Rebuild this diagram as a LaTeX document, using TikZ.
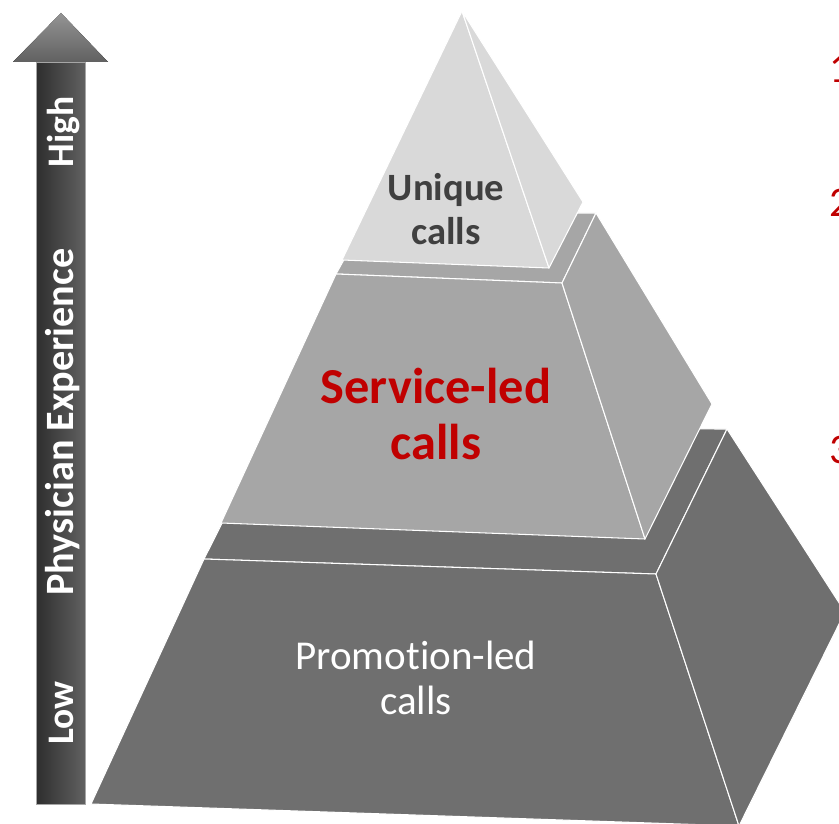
\documentclass[tikz,border=0pt]{standalone}
\usepackage{fontspec}
\setmainfont[Ligatures=NoCommon]{Carlito}
\usepackage{xcolor}
\usetikzlibrary{calc}
\definecolor{uniquegray}{HTML}{D9D9D9}
\definecolor{servicegray}{HTML}{A6A6A6}
\definecolor{promogray}{HTML}{6F6F6F}
\definecolor{callred}{HTML}{C00000}
\definecolor{labelgray}{HTML}{404040}

\begin{document}
\begin{tikzpicture}[x=0.03cm, y=-0.03cm,
  face/.style={draw=white, line width=0.9pt, line join=round},
  axislabel/.style={rotate=90, anchor=base, text=white, font=\bfseries\fontsize{32}{36}\selectfont},
  tierlabel/.style={align=center, font=\bfseries\fontsize{33}{37}\selectfont},
  stepnum/.style={anchor=base west, text=callred, font=\fontsize{36}{40}\selectfont}]
  \useasboundingbox (0,0) rectangle (839,824);
  \clip (0,0) rectangle (839,824);
  % experience arrow
  \coordinate (tip) at (61,13);
  \fill[left color=black!82, right color=black!62, draw=black!35, line width=0.6pt] (36,62) rectangle (85,804);
  \fill[top color=black!42, bottom color=black!62] (13,62) -- (tip) -- (108,62) -- cycle;
  % tier corners
  \coordinate (apex) at (462,11);
  \coordinate (uFL) at (342,260);
  \coordinate (uFR) at (549,268);
  \coordinate (uBR) at (583,202);
  \coordinate (sTFL) at (336,274);
  \coordinate (sTFR) at (562,283);
  \coordinate (sTBR) at (596,213);
  \coordinate (sTBL) at (370,213);
  \coordinate (sBFL) at (221,523);
  \coordinate (sBFR) at (645,539);
  \coordinate (sBBR) at (712,404);
  \coordinate (pTFL) at (204,559);
  \coordinate (pTFR) at (656,574);
  \coordinate (pTBR) at (727,429);
  \coordinate (pTBL) at (270,428);
  \coordinate (pBFL) at (91,804);
  \coordinate (pBFR) at (739,826);
  \coordinate (pBBR) at (845,612);
  % bottom tier
  \filldraw[face, fill=promogray] (pTFL) -- (pTFR) -- (pTBR) -- (pTBL) -- cycle;
  \filldraw[face, fill=promogray] (pTFL) -- (pTFR) -- (pBFR) -- (pBFL) -- cycle;
  \filldraw[face, fill=promogray] (pTFR) -- (pTBR) -- (pBBR) -- (pBFR) -- cycle;
  % middle tier
  \filldraw[face, fill=servicegray] (sTFL) -- (sTFR) -- (sTBR) -- (sTBL) -- cycle;
  \filldraw[face, fill=servicegray] (sTFL) -- (sTFR) -- (sBFR) -- (sBFL) -- cycle;
  \filldraw[face, fill=servicegray] (sTFR) -- (sTBR) -- (sBBR) -- (sBFR) -- cycle;
  % top tier
  \filldraw[face, fill=uniquegray] (apex) -- (uFR) -- (uFL) -- cycle;
  \filldraw[face, fill=uniquegray] (apex) -- (uBR) -- (uFR) -- cycle;
  % labels
  \node[tierlabel, text=labelgray] (unique) at (446,209) {Unique\\calls};
  \node[tierlabel, text=callred, font=\bfseries\fontsize{43}{48}\selectfont] (service) at (436,414) {Service-led\\calls};
  \node[tierlabel, text=white, font=\fontsize{35}{38}\selectfont] (promotion) at (416,678) {Promotion-led\\calls};
  \node[axislabel] (high) at (73,132) {High};
  \node[axislabel, font=\bfseries\fontsize{34.3}{38}\selectfont] (experience) at (73,422) {Physician Experience};
  \node[axislabel] (low) at (73,713) {Low};
  \node[stepnum] (one) at (825,83) {1};
  \node[stepnum] (two) at (825,217) {2};
  \node[stepnum] (three) at (825,463) {3};
\end{tikzpicture}
\end{document}
